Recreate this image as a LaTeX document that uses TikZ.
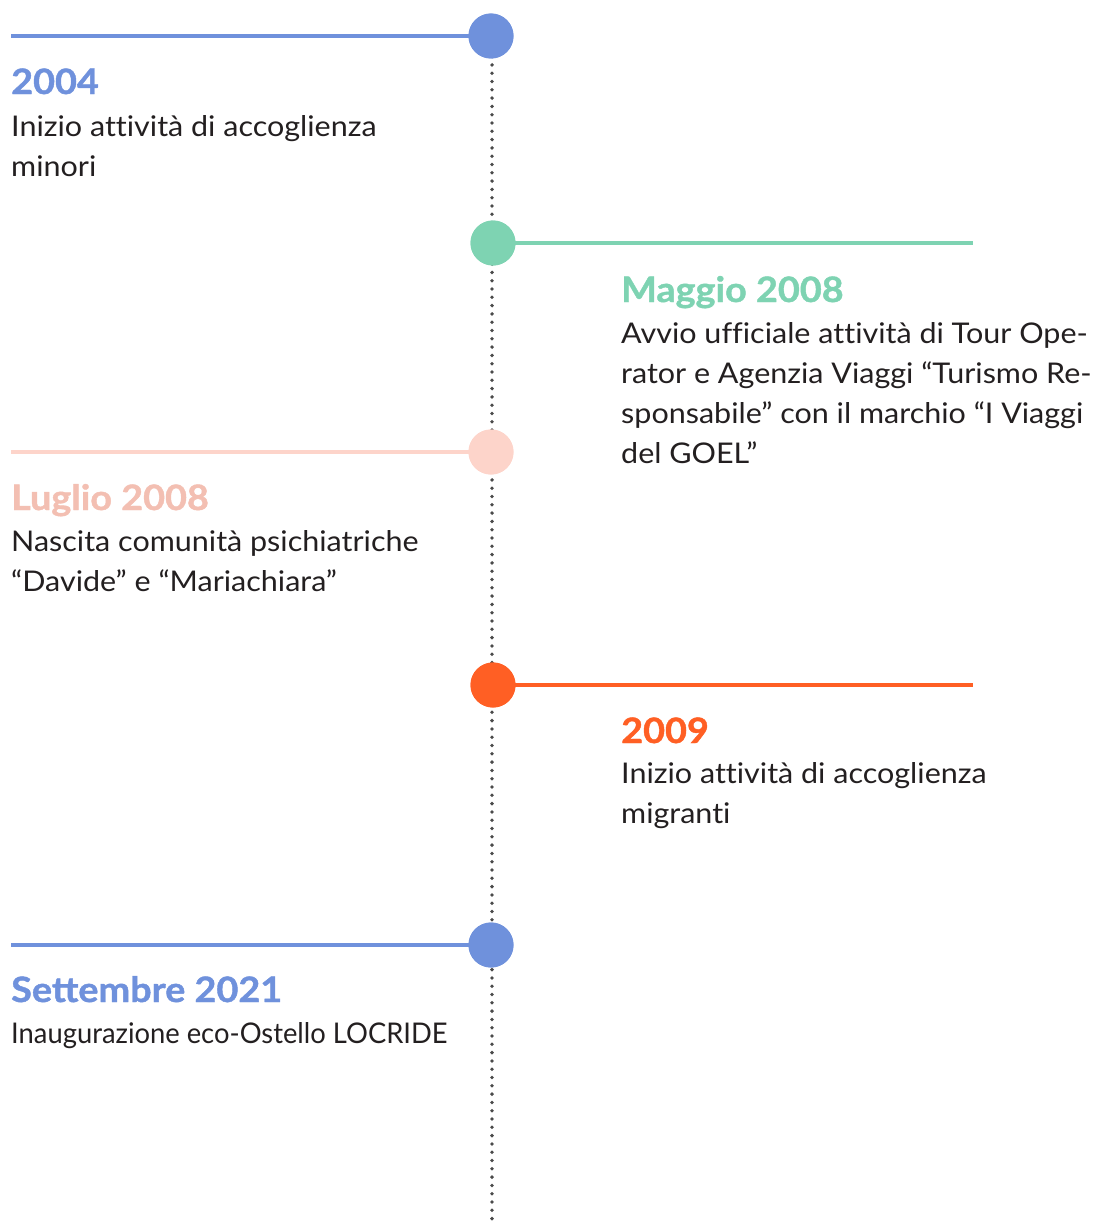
\documentclass[tikz,border=0pt]{standalone}
\usepackage{fontspec}
\setmainfont{Lato}
\newfontfamily\bodyfont[FakeStretch=1.07,Ligatures=NoCommon]{Lato}
\newfontfamily\narrowfont[FakeStretch=0.96,Ligatures=NoCommon]{Lato}
\newfontfamily\headfont[FakeStretch=1.08,BoldFeatures={FakeBold=1.2}]{Lato}
\definecolor{cblue}{HTML}{6F91DC}
\definecolor{cgreen}{HTML}{7ED3B2}
\definecolor{cpink}{HTML}{FDD4CA}
\definecolor{cpinktext}{HTML}{F3BFB2}
\definecolor{corange}{HTML}{FF5F24}
\definecolor{ctext}{HTML}{231F20}
\definecolor{cdots}{HTML}{4A4A4A}
\newcommand{\blk}[1]{\parbox[t]{520pt}{\raggedright #1}}
\begin{document}
\begin{tikzpicture}[x=1pt,y=-1pt,
  dot/.style={circle,minimum size=45pt,inner sep=0pt,fill=#1},
  bar/.style={draw=#1,line width=4.8pt},
  head/.style={anchor=base west,inner sep=0pt,text=#1,font=\headfont\bfseries\fontsize{35}{40}\selectfont},
  body/.style={anchor=base west,inner sep=0pt,text=ctext,font=\bodyfont\fontsize{28.5}{40}\selectfont},
  narrowbody/.style={body,font=\narrowfont\fontsize{28.5}{40}\selectfont},
  spine/.style={draw=cdots,line width=3.8pt,line cap=round,dash pattern=on 0pt off 8.3pt}]
\useasboundingbox (0,0) rectangle (1098,1223);
\coordinate (top) at (492,40);
\coordinate (bottom) at (492,1220);
\draw[spine] (top) -- (bottom);
% events
\node[dot=cblue] (c1) at (491,36) {};
\coordinate (e1) at (11,36);
\draw[bar=cblue] (e1) -- (c1.center);
\node[dot=cblue] at (c1) {};
\node[head=cblue] (h1) at (11,94) {2004};
\node[body] (b1) at (11,136) {\blk{Inizio attività di accoglienza\\minori}};

\node[dot=cgreen] (c2) at (493,243) {};
\coordinate (e2) at (973,243);
\draw[bar=cgreen] (c2.center) -- (e2);
\node[dot=cgreen] at (c2) {};
\node[head=cgreen] (h2) at (621,302) {Maggio 2008};
\node[body] (b2) at (621,343) {\blk{Avvio ufficiale attività di Tour Ope-\\rator e Agenzia Viaggi “Turismo Re-\\sponsabile” con il marchio “I Viaggi\\del GOEL”}};

\node[dot=cpink] (c3) at (491,452) {};
\coordinate (e3) at (11,452);
\draw[bar=cpink] (e3) -- (c3.center);
\node[dot=cpink] at (c3) {};
\node[head=cpinktext] (h3) at (11,510) {Luglio 2008};
\node[body] (b3) at (11,551) {\blk{Nascita comunità psichiatriche\\“Davide” e “Mariachiara”}};

\node[dot=corange] (c4) at (493,685) {};
\coordinate (e4) at (973,685);
\draw[bar=corange] (c4.center) -- (e4);
\node[dot=corange] at (c4) {};
\node[head=corange] (h4) at (621,743) {2009};
\node[body] (b4) at (621,783) {\blk{Inizio attività di accoglienza\\migranti}};

\node[dot=cblue] (c5) at (491,945) {};
\coordinate (e5) at (11,945);
\draw[bar=cblue] (e5) -- (c5.center);
\node[dot=cblue] at (c5) {};
\node[head=cblue] (h5) at (11,1002) {Settembre 2021};
\node[narrowbody] (b5) at (11,1043) {Inaugurazione eco-Ostello LOCRIDE};
\end{tikzpicture}
\end{document}
